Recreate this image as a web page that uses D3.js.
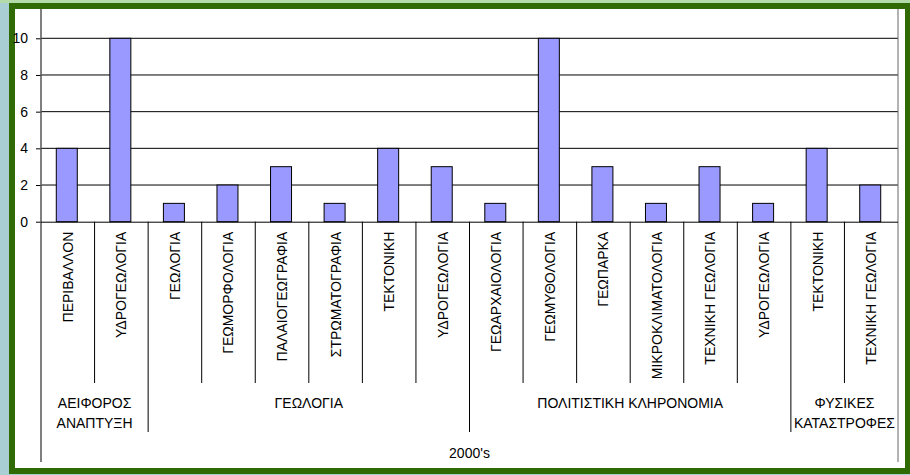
<!DOCTYPE html>
<html>
<head>
<meta charset="utf-8">
<script src="https://cdn.jsdelivr.net/npm/d3@7"></script>
<style>
  html, body { margin: 0; padding: 0; background: #a9cfd5; }
  svg { display: block; }
  text { font-family: 'Liberation Sans', Arial, sans-serif; fill: #000; }
</style>
</head>
<body>
<svg id="chart"></svg>
<script>
// chart data
const categories = [
  'ΠΕΡΙΒΑΛΛΟΝ', 'ΥΔΡΟΓΕΩΛΟΓΙΑ',
  'ΓΕΩΛΟΓΙΑ', 'ΓΕΩΜΟΡΦΟΛΟΓΙΑ', 'ΠΑΛΑΙΟΓΕΩΓΡΑΦΙΑ', 'ΣΤΡΩΜΑΤΟΓΡΑΦΙΑ', 'ΤΕΚΤΟΝΙΚΗ', 'ΥΔΡΟΓΕΩΛΟΓΙΑ',
  'ΓΕΩΑΡΧΑΙΟΛΟΓΙΑ', 'ΓΕΩΜΥΘΟΛΟΓΙΑ', 'ΓΕΩΠΑΡΚΑ', 'ΜΙΚΡΟΚΛΙΜΑΤΟΛΟΓΙΑ', 'ΤΕΧΝΙΚΗ ΓΕΩΛΟΓΙΑ', 'ΥΔΡΟΓΕΩΛΟΓΙΑ',
  'ΤΕΚΤΟΝΙΚΗ', 'ΤΕΧΝΙΚΗ ΓΕΩΛΟΓΙΑ'
];
const values = [4, 10, 1, 2, 3, 1, 4, 3, 1, 10, 3, 1, 3, 1, 4, 2];
const groups = [['ΑΕΙΦΟΡΟΣ', 'ΑΝΑΠΤΥΞΗ'], ['ΓΕΩΛΟΓΙΑ'], ['ΠΟΛΙΤΙΣΤΙΚΗ ΚΛΗΡΟΝΟΜΙΑ'], ['ΦΥΣΙΚΕΣ', 'ΚΑΤΑΣΤΡΟΦΕΣ']];
const groupSizes = [2, 6, 6, 2];
const period = "2000's";
const yTicks = [0, 2, 4, 6, 8, 10];

const W = 910, H = 475;
const plot = { left: 41, right: 898, top: 9, zero: 221.7 };

const svg = d3.select('#chart').attr('width', W).attr('height', H);

// page background + green frame
svg.append('rect').attr('width', W).attr('height', H).attr('fill', '#a9cfd5');
svg.append('rect').attr('width', W).attr('height', 3).attr('fill', '#b3dbaa');
svg.append('rect')
  .attr('x', 12).attr('y', 6)
  .attr('width', 896).attr('height', 465)
  .attr('fill', '#fff')
  .attr('stroke', '#2f6a05')
  .attr('stroke-width', 6);

const xScale = d3.scaleBand()
  .domain(d3.range(categories.length))
  .range([plot.left, plot.right])
  .paddingInner(0);

const yScale = d3.scaleLinear()
  .domain([0, 12])
  .range([plot.zero, plot.zero - 12 * 18.34]);

const g = svg.append('g');

// gridlines
g.append('g')
  .selectAll('line')
  .data(yTicks.slice(1))
  .join('line')
  .attr('x1', plot.left).attr('x2', plot.right)
  .attr('y1', (d) => yScale(d)).attr('y2', (d) => yScale(d))
  .attr('stroke', '#000')
  .attr('stroke-width', 1);

// right border of plot area, and outer category boundaries
g.append('line')
  .attr('x1', plot.right).attr('x2', plot.right)
  .attr('y1', plot.top).attr('y2', 462)
  .attr('stroke', '#666');

// y axis
const yAxis = d3.axisLeft(yScale).tickValues(yTicks).tickSize(5).tickPadding(8);
const yG = g.append('g')
  .attr('transform', `translate(${plot.left},0)`)
  .call(yAxis);
yG.select('.domain').remove();
yG.selectAll('line').attr('stroke', '#000');
yG.selectAll('text')
  .style('font-family', "'Liberation Sans', Arial, sans-serif")
  .style('font-size', '14px')
  .attr('fill', '#000');
g.append('line')
  .attr('x1', plot.left).attr('x2', plot.left)
  .attr('y1', plot.top).attr('y2', 462)
  .attr('stroke', '#555')
  .attr('stroke-width', 1.5);

// bars
const barW = 21;
g.append('g')
  .selectAll('rect')
  .data(values)
  .join('rect')
  .attr('x', (d, i) => xScale(i) + xScale.bandwidth() / 2 - barW / 2 - 1)
  .attr('y', (d) => yScale(d))
  .attr('width', barW)
  .attr('height', (d) => yScale(0) - yScale(d))
  .attr('fill', '#9999ff')
  .attr('stroke', '#000')
  .attr('stroke-width', 1);

// category axis
const xAxis = d3.axisBottom(xScale).tickSize(0).tickFormat((i) => categories[i]);
const xG = g.append('g')
  .attr('transform', `translate(0,${plot.zero})`)
  .call(xAxis);
xG.select('.domain').attr('stroke', '#000').attr('d', `M${plot.left},0.5H${plot.right}`);
xG.selectAll('text')
  .attr('transform', 'rotate(-90)')
  .attr('x', -10)
  .attr('y', 0)
  .attr('dy', '0.35em')
  .style('text-anchor', 'end')
  .style('font-family', "'Liberation Sans', Arial, sans-serif")
  .style('font-size', '14px')
  .attr('fill', '#000');

// boundaries between categories and groups
const groupStarts = groupSizes.map((s, k) => d3.sum(groupSizes.slice(0, k)));
const groupEnds = new Set(groupStarts.slice(1));
g.append('g')
  .selectAll('line')
  .data(d3.range(1, categories.length))
  .join('line')
  .attr('x1', (i) => xScale(i)).attr('x2', (i) => xScale(i))
  .attr('y1', plot.zero)
  .attr('y2', (i) => groupEnds.has(i) ? 432 : 383)
  .attr('stroke', '#000');

// group labels
const groupG = g.append('g')
  .selectAll('text')
  .data(groups)
  .join('text')
  .attr('text-anchor', 'middle')
  .style('font-size', '14px')
  .attr('transform', (d, k) => {
    const x0 = xScale(groupStarts[k]);
    const x1 = xScale(groupStarts[k] + groupSizes[k] - 1) + xScale.bandwidth();
    return `translate(${(x0 + x1) / 2},408)`;
  });
groupG.selectAll('tspan')
  .data((d) => d)
  .join('tspan')
  .attr('x', 0)
  .attr('y', (d, j) => j * 20)
  .text((d) => d);

// top level label
g.append('text')
  .attr('x', (plot.left + plot.right) / 2)
  .attr('y', 458)
  .attr('text-anchor', 'middle')
  .style('font-size', '14px')
  .text(period);
</script>
</body>
</html>
